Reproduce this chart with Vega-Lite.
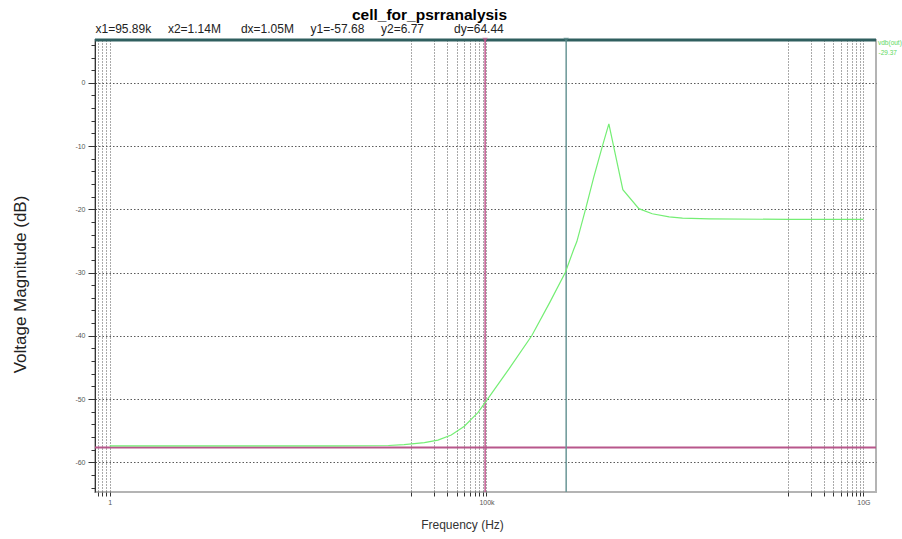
{
  "$schema": "https://vega.github.io/schema/vega-lite/v6.json",
  "width": 781,
  "height": 452,
  "autosize": {"type": "none"},
  "padding": {"left": 95, "top": 40, "right": 26, "bottom": 47},
  "background": "white",
  "config": {"font": "Liberation Sans", "view": {"stroke": "#b4b4b4", "strokeWidth": 2}},
  "title": {"text": "cell_for_psrranalysis", "fontSize": 15.5, "fontWeight": "bold", "color": "#000000", "anchor": "middle", "frame": "group", "dx": -56, "dy": 3, "offset": 2},
  "datasets": {
    "curve": [
      {"freq": 1, "db": -57.4, "signal": "vdb(out)"},
      {"freq": 1000, "db": -57.4, "signal": "vdb(out)"},
      {"freq": 5000, "db": -57.35, "signal": "vdb(out)"},
      {"freq": 8070, "db": -57.2, "signal": "vdb(out)"},
      {"freq": 15000, "db": -56.9, "signal": "vdb(out)"},
      {"freq": 22700, "db": -56.5, "signal": "vdb(out)"},
      {"freq": 34100, "db": -55.7, "signal": "vdb(out)"},
      {"freq": 50900, "db": -54.3, "signal": "vdb(out)"},
      {"freq": 66500, "db": -52.9, "signal": "vdb(out)"},
      {"freq": 77400, "db": -52.1, "signal": "vdb(out)"},
      {"freq": 105000, "db": -49.9, "signal": "vdb(out)"},
      {"freq": 200000, "db": -45.2, "signal": "vdb(out)"},
      {"freq": 398000, "db": -40, "signal": "vdb(out)"},
      {"freq": 700000, "db": -34.6, "signal": "vdb(out)"},
      {"freq": 1110000, "db": -30, "signal": "vdb(out)"},
      {"freq": 1430000, "db": -26.4, "signal": "vdb(out)"},
      {"freq": 1580000, "db": -25.1, "signal": "vdb(out)"},
      {"freq": 2050000, "db": -20.1, "signal": "vdb(out)"},
      {"freq": 2650000, "db": -14.9, "signal": "vdb(out)"},
      {"freq": 3410000, "db": -10.2, "signal": "vdb(out)"},
      {"freq": 4200000, "db": -6.5, "signal": "vdb(out)"},
      {"freq": 6440000, "db": -16.9, "signal": "vdb(out)"},
      {"freq": 10500000, "db": -19.9, "signal": "vdb(out)"},
      {"freq": 15800000, "db": -20.7, "signal": "vdb(out)"},
      {"freq": 26500000, "db": -21.2, "signal": "vdb(out)"},
      {"freq": 39800000, "db": -21.4, "signal": "vdb(out)"},
      {"freq": 90000000, "db": -21.5, "signal": "vdb(out)"},
      {"freq": 1000000000, "db": -21.6, "signal": "vdb(out)"},
      {"freq": 10000000000, "db": -21.6, "signal": "vdb(out)"}
    ],
    "xcursors": [
      {"name": "x1", "freq": 95890},
      {"name": "x2", "freq": 1140000}
    ],
    "ycursors": [
      {"name": "y1", "db": -57.68},
      {"name": "y2", "db": 6.77}
    ]
  },
  "resolve": {"axis": {"x": "independent", "y": "independent"}, "scale": {"color": "independent", "strokeWidth": "independent"}},
  "layer": [
    {
      "data": {"name": "curve"},
      "mark": {"type": "line", "strokeWidth": 1.2, "clip": true, "opacity": 0},
      "encoding": {
        "x": {
          "field": "freq", "type": "quantitative",
          "scale": {"type": "log", "domain": [0.64, 14700000000], "nice": false},
          "axis": {
            "orient": "bottom", "title": "Frequency (Hz)",
            "values": [0.7, 0.8, 0.9, 1, 10000, 20000, 30000, 40000, 50000, 60000, 70000, 80000, 90000, 100000, 1000000000, 2000000000, 3000000000, 4000000000, 5000000000, 6000000000, 7000000000, 8000000000, 9000000000, 10000000000],
            "labelExpr": "datum.value == 1 ? '1' : datum.value == 100000 ? '100k' : datum.value == 10000000000 ? '10G' : ''",
            "labelOverlap": false, "labelFontSize": 7, "labelColor": "#555555", "labelPadding": 2,
            "tickSize": 4, "tickColor": "#333333", "domain": false,
            "grid": true, "gridColor": "#555555", "gridDash": [1, 2], "gridWidth": 1,
            "titleFontSize": 12, "titleFontWeight": "normal", "titleColor": "#333333",
            "titleX": 367, "titleY": 32, "titleBaseline": "middle", "titleAlign": "center", "titleAnchor": null
          }
        },
        "y": {
          "field": "db", "type": "quantitative",
          "scale": {"domain": [-64.7, 6.77], "nice": false, "zero": false},
          "axis": {
            "orient": "left",
            "title": "Voltage Magnitude (dB)",
            "values": [0, -10, -20, -30, -40, -50, -60],
            "labelExpr": "'' + datum.value",
            "labelOverlap": false, "labelFontSize": 7, "labelColor": "#555555", "labelPadding": 3,
            "tickSize": 7, "tickColor": "#333333", "domainColor": "#333333", "domainWidth": 1,
            "grid": true, "gridColor": "#5a5a5a", "gridDash": [1.5, 2], "gridWidth": 1,
            "titleFontSize": 17, "titleFontWeight": "normal", "titleColor": "#222222",
            "titleX": -75, "titleY": 244, "titleAngle": -90, "titleBaseline": "middle", "titleAlign": "center"
          }
        }
      }
    },
    {
      "data": {"name": "ycursors"},
      "mark": {"type": "rule"},
      "encoding": {
        "y": {
          "field": "db", "type": "quantitative",
          "axis": {
            "orient": "left", "title": null, "labels": false, "domain": false, "grid": false,
            "values": [6, 4, 2, 0, -2, -4, -6, -8, -10, -12, -14, -16, -18, -20, -22, -24, -26, -28, -30, -32, -34, -36, -38, -40, -42, -44, -46, -48, -50, -52, -54, -56, -58, -60, -62, -64],
            "tickSize": 4, "tickColor": "#333333"
          }
        },
        "color": {"field": "name", "type": "nominal", "scale": {"domain": ["y1", "y2"], "range": ["#b8578b", "#2f5f5f"]}, "legend": null},
        "strokeWidth": {"field": "name", "type": "nominal", "scale": {"domain": ["y1", "y2"], "range": [2, 3]}, "legend": null}
      }
    },
    {
      "data": {"name": "xcursors"},
      "mark": {"type": "rule", "strokeWidth": 1.5},
      "encoding": {
        "x": {
          "field": "freq", "type": "quantitative",
          "axis": {
            "orient": "top", "labels": false, "ticks": false, "domain": false, "grid": false,
            "title": "x1=95.89k\u00a0\u00a0\u00a0\u00a0\u00a0x2=1.14M\u00a0\u00a0\u00a0\u00a0\u00a0\u00a0dx=1.05M\u00a0\u00a0\u00a0\u00a0\u00a0y1=-57.68\u00a0\u00a0\u00a0\u00a0\u00a0y2=6.77\u00a0\u00a0\u00a0\u00a0\u00a0\u00a0\u00a0\u00a0\u00a0dy=64.44",
            "titleX": 0, "titleY": -12, "titleAlign": "left", "titleAnchor": "start", "titleBaseline": "middle",
            "titleFontSize": 12, "titleFontWeight": "normal", "titleColor": "#222222"
          }
        },
        "color": {"field": "name", "type": "nominal", "scale": {"domain": ["x1", "x2"], "range": ["#c0588f", "#6a9696"]}, "legend": null}
      }
    },
    {
      "data": {"name": "xcursors"},
      "mark": {"type": "point", "shape": "triangle-down", "filled": true, "size": 30},
      "encoding": {
        "x": {"field": "freq", "type": "quantitative", "axis": null},
        "y": {"datum": 6.77, "axis": null},
        "color": {"field": "name", "type": "nominal", "scale": {"domain": ["x1", "x2"], "range": ["#c0588f", "#4f7f7f"]}, "legend": null}
      }
    },
    {
      "data": {"name": "curve"},
      "mark": {"type": "line", "strokeWidth": 1.2, "clip": true},
      "encoding": {
        "x": {"field": "freq", "type": "quantitative", "axis": null},
        "y": {"field": "db", "type": "quantitative", "axis": null},
        "color": {
          "field": "signal", "type": "nominal",
          "scale": {"range": ["#74ee74"]},
          "legend": {
            "orient": "none", "legendX": 783, "legendY": 0,
            "title": "vdb(out)", "titleFontSize": 6.5, "titleColor": "#5ed85e", "titleFontWeight": "normal", "titlePadding": 3,
            "labelExpr": "'-29.37'", "labelFontSize": 6.5, "labelColor": "#5ed85e", "labelOffset": -6,
            "symbolOpacity": 0, "symbolSize": 0, "symbolStrokeWidth": 0, "padding": 0
          }
        }
      }
    }
  ]
}
